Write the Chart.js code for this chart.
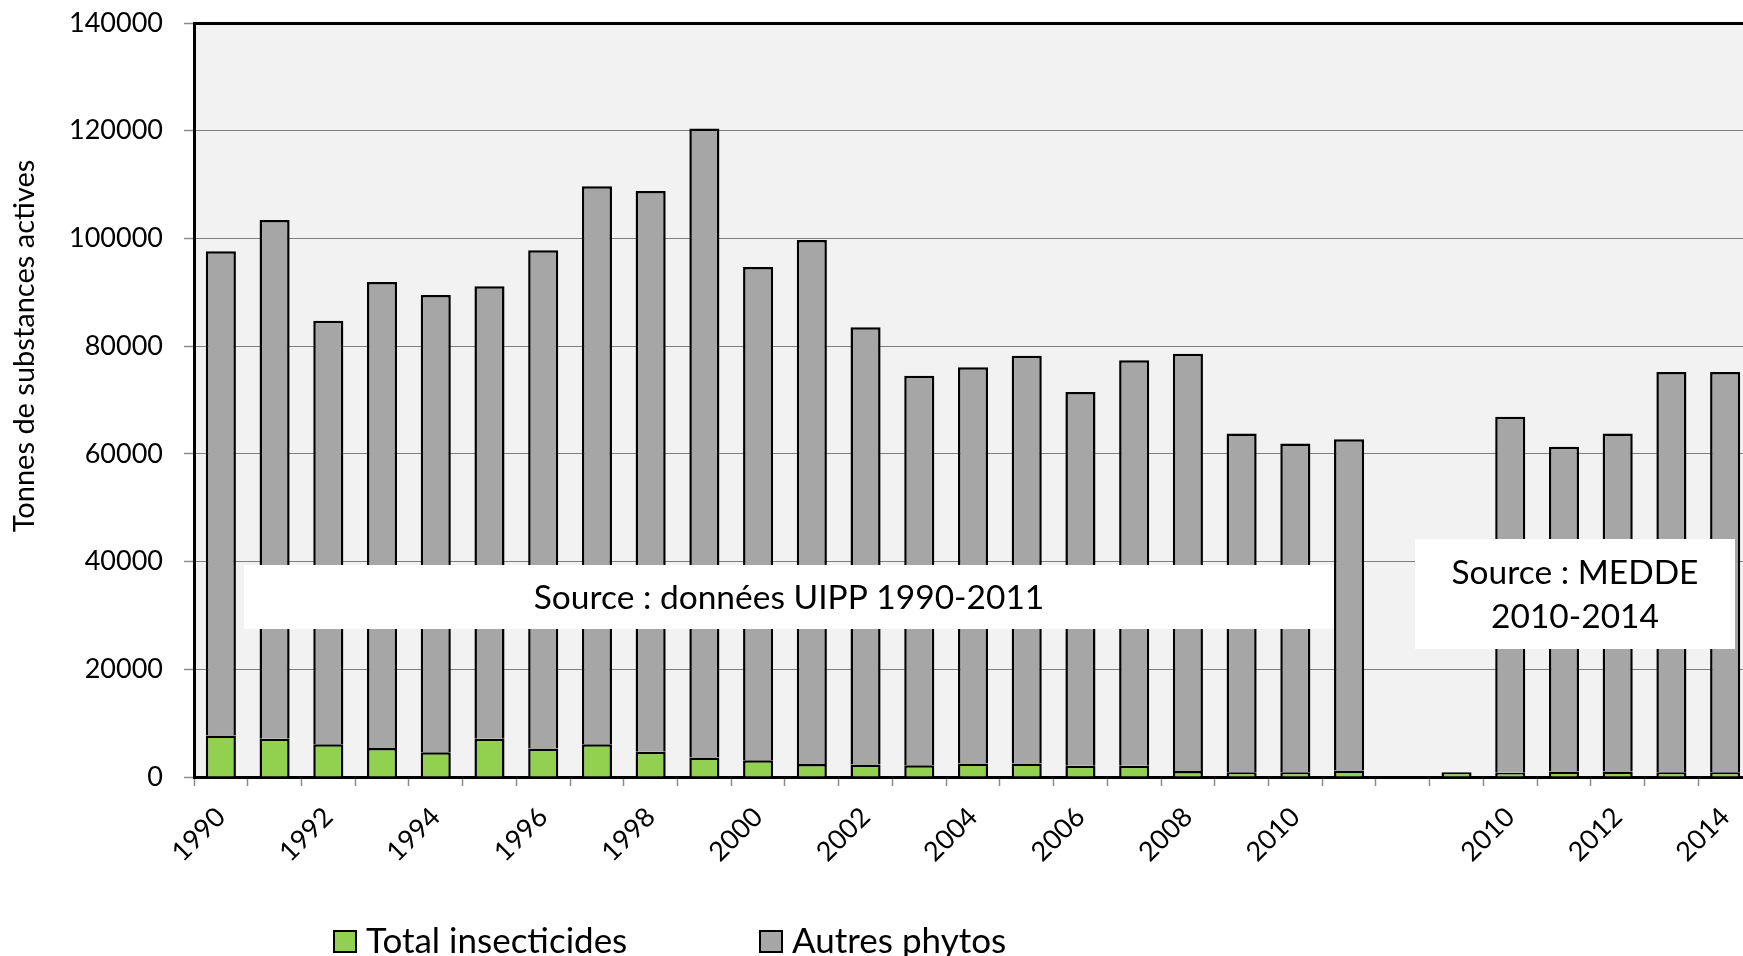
<!DOCTYPE html>
<html>
<head>
<meta charset="utf-8">
<script src="https://cdn.jsdelivr.net/npm/chart.js@4"></script>
<style>
  body { margin: 0; overflow: hidden; background: #fff; }
  #wrap { width: 1753px; height: 956px; position: relative; }
</style>
</head>
<body>
<div id="wrap"><canvas id="myChart"></canvas></div>
<script>
// years on the axis (UIPP 1990-2011, gap, then MEDDE series)
const years = [
  '1990', '1991', '1992', '1993', '1994', '1995', '1996', '1997', '1998', '1999',
  '2000', '2001', '2002', '2003', '2004', '2005', '2006', '2007', '2008', '2009',
  '2010', '2011', '', '2009', '2010', '2011', '2012', '2013', '2014'
]
// tonnes of active substances
const insecticides = [
  7700, 7100, 6100, 5400, 4600, 7100, 5300, 6100, 4700, 3600,
  3100, 2400, 2300, 2200, 2500, 2500, 2100, 2100, 1100, 900,
  900, 1200, null, 900, 800, 1000, 1000, 900, 900
]
const autresPhytos = [
  89900, 96300, 78600, 86500, 84900, 84000, 92500, 103600, 104100, 116800,
  91600, 97300, 81200, 72300, 73600, 75700, 69400, 75300, 77500, 62900,
  61000, 61500, null, null, 66100, 60300, 62800, 74300, 74300
]
const yTicks = [0, 20000, 40000, 60000, 80000, 100000, 120000, 140000]

const FONT = 'Lato'

const decor = {
  id: 'decor',
  beforeDraw(chart) {
    const {ctx, chartArea: a} = chart
    ctx.save()
    ctx.fillStyle = '#f2f2f2'
    ctx.fillRect(a.left, a.top, a.right - a.left, a.bottom - a.top)
    ctx.restore()
  },
  afterDatasetsDraw(chart) {
    const ctx = chart.ctx
    ctx.save()
    ctx.fillStyle = '#fff'
    ctx.fillRect(244, 565, 1090, 64)
    ctx.fillRect(1415, 539, 320, 110)
    ctx.fillStyle = '#000'
    ctx.textAlign = 'center'
    ctx.textBaseline = 'middle'
    ctx.font = '33.5px ' + FONT
    ctx.fillText('Source : données UIPP 1990-2011', 789, 598)
    ctx.fillText('Source : MEDDE', 1575, 573)
    ctx.fillText('2010-2014', 1575, 617)
    ctx.restore()
  },
  afterDraw(chart) {
    const ctx = chart.ctx
    ctx.save()
    // y axis title
    ctx.translate(25, 346)
    ctx.rotate(-Math.PI / 2)
    ctx.textAlign = 'center'
    ctx.textBaseline = 'middle'
    ctx.font = '29px ' + FONT
    ctx.fillStyle = '#000'
    ctx.fillText('Tonnes de substances actives', 0, 0)
    ctx.restore()

    // legend
    const items = [
      {label: 'Total insecticides', color: '#92d050', x: 334},
      {label: 'Autres phytos', color: '#a6a6a6', x: 760}
    ]
    ctx.save()
    ctx.font = '35px ' + FONT
    ctx.textBaseline = 'alphabetic'
    items.forEach(it => {
      ctx.fillStyle = it.color
      ctx.fillRect(it.x, 931, 22, 21)
      ctx.lineWidth = 2
      ctx.strokeStyle = '#000'
      ctx.strokeRect(it.x, 931, 22, 21)
      ctx.fillStyle = '#000'
      ctx.fillText(it.label, it.x + 32, 953)
    })
    ctx.restore()
  }
}

const context = document.getElementById('myChart').getContext('2d')
const myChart = new Chart(context, {
  type: 'bar',
  data: {
    labels: years,
    datasets: [
      {
        label: 'Total insecticides',
        data: insecticides,
        backgroundColor: '#92d050',
        borderColor: '#000',
        borderWidth: 2.5,
        barPercentage: 0.56,
        categoryPercentage: 1
      },
      {
        label: 'Autres phytos',
        data: autresPhytos,
        backgroundColor: '#a6a6a6',
        borderColor: '#000',
        borderWidth: 2.5,
        barPercentage: 0.56,
        categoryPercentage: 1
      }
    ]
  },
  options: {
    responsive: true,
    maintainAspectRatio: false,
    devicePixelRatio: 1,
    animation: false,
    layout: {padding: {top: 23, left: 0, right: 1, bottom: 0}},
    plugins: {
      legend: {display: false},
      tooltip: {enabled: false}
    },
    scales: {
      x: {
        stacked: true,
        afterFit: s => {
          s.height = 179
          s.paddingLeft = 0
          s.paddingRight = 0
        },
        grid: {
          drawOnChartArea: false,
          drawTicks: true,
          tickLength: 9,
          tickColor: '#8c8c8c',
          tickWidth: 1.5
        },
        border: {color: '#000', width: 3},
        ticks: {
          autoSkip: false,
          maxRotation: 45,
          minRotation: 45,
          padding: 15,
          color: '#000',
          font: {family: FONT, size: 27},
          callback: (v, i) => (i % 2 === 0 ? years[i] : '')
        }
      },
      y: {
        stacked: true,
        min: 0,
        max: 140000,
        afterFit: s => {
          s.width = 194
          s.paddingTop = 0
          s.paddingBottom = 0
        },
        afterBuildTicks: s => { s.ticks = yTicks.map(v => ({value: v})) },
        grid: {
          color: c => (c.tick && c.tick.value === 140000 ? '#000' : '#7f7f7f'),
          lineWidth: c => (c.tick && c.tick.value === 140000 ? 3 : 1),
          tickLength: 10,
          tickColor: '#8c8c8c',
          tickWidth: 1.5
        },
        border: {color: '#000', width: 3},
        ticks: {
          padding: 21,
          color: '#000',
          font: {family: FONT, size: 27},
          callback: v => String(v)
        }
      }
    }
  },
  plugins: [decor]
})
</script>
</body>
</html>
